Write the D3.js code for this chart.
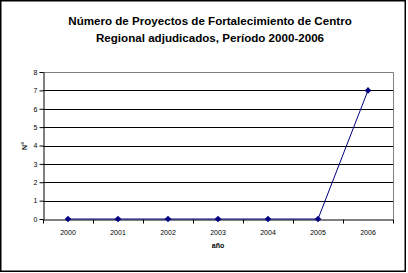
<!DOCTYPE html>
<html>
<head>
<meta charset="utf-8">
<script src="https://cdn.jsdelivr.net/npm/d3@7"></script>
<style>
  body { margin: 0; background: #fff; }
  svg text { font-family: Arial, "Liberation Sans", sans-serif; }
</style>
</head>
<body>
<svg id="chart" width="408" height="273"></svg>
<script>
// data
var years = ["2000", "2001", "2002", "2003", "2004", "2005", "2006"];
var proyectos = [0, 0, 0, 0, 0, 0, 7];
var yTicks = [0, 1, 2, 3, 4, 5, 6, 7, 8];
var titleLines = ["Número de Proyectos de Fortalecimiento de Centro", "Regional adjudicados, Período 2000-2006"];

var margin = {top: 72, left: 43},
    width = 350,
    height = 147;

var svg = d3.select("#chart");

// outer frame
svg.append("rect")
    .attr("x", 0.75).attr("y", 0.75)
    .attr("width", 404.5).attr("height", 270.5)
    .attr("fill", "#fff")
    .attr("stroke", "#000")
    .attr("stroke-width", 1.5);

// title
svg.append("g").selectAll("text")
    .data(titleLines)
    .enter().append("text")
    .attr("x", 210)
    .attr("y", function (d, i) { return 25 + i * 17; })
    .attr("text-anchor", "middle")
    .style("font-size", "11.6px")
    .style("font-weight", "bold")
    .text(function (d) { return d; });

var g = svg.append("g")
    .attr("transform", "translate(" + margin.left + "," + margin.top + ")");

// scales
var xScale = d3.scaleBand().domain(years).range([0, width]);
var yScale = d3.scaleLinear().domain([0, 8]).range([height, 0]);

// gridlines
g.append("g").selectAll("line")
    .data(yTicks.filter(function (d) { return d > 0 && d < 8; }))
    .enter().append("line")
    .attr("x1", 0).attr("x2", width)
    .attr("y1", function (d) { return Math.round(yScale(d)) + 0.5; })
    .attr("y2", function (d) { return Math.round(yScale(d)) + 0.5; })
    .attr("stroke", "#000");

// plot border top/right (gray)
g.append("path")
    .attr("d", "M0,0.5H" + (width + 0.5) + "V" + height)
    .attr("fill", "none")
    .attr("stroke", "#808080");

// y axis
var yAxis = d3.axisLeft(yScale).tickValues(yTicks).tickSize(4).tickSizeOuter(0);
var gy = g.append("g").attr("class", "y axis").attr("transform", "translate(0.5,0)").call(yAxis);
gy.select(".domain").attr("stroke", "#000");
gy.selectAll(".tick line").attr("stroke", "#000");
gy.selectAll("text").style("font-size", "7px").attr("x", -6).attr("fill", "#000");

// x axis
var xAxis = d3.axisBottom(xScale).tickSize(0).tickSizeOuter(0);
var gx = g.append("g").attr("class", "x axis").attr("transform", "translate(0," + (height + 0.5) + ")").call(xAxis);
gx.select(".domain").attr("stroke", "#000");
gx.selectAll("text").style("font-size", "7px").attr("dy", "0").attr("y", 15).attr("fill", "#000");
// tick marks between categories
gx.append("g").selectAll("line")
    .data(years)
    .enter().append("line")
    .attr("x1", function (d) { return Math.round(xScale(d)) + 0.5; })
    .attr("x2", function (d) { return Math.round(xScale(d)) + 0.5; })
    .attr("y1", 0).attr("y2", 4)
    .attr("stroke", "#000");
gx.append("line")
    .attr("x1", width + 0.5).attr("x2", width + 0.5)
    .attr("y1", 0).attr("y2", 4)
    .attr("stroke", "#000");

// axis titles
svg.append("text")
    .attr("transform", "translate(27,146) rotate(-90)")
    .attr("text-anchor", "middle")
    .style("font-size", "7px")
    .style("font-weight", "bold")
    .text("N°");

svg.append("text")
    .attr("x", margin.left + width / 2)
    .attr("y", 248)
    .attr("text-anchor", "middle")
    .style("font-size", "7px")
    .style("font-weight", "bold")
    .text("año");

// line
var line = d3.line()
    .x(function (d, i) { return xScale(years[i]) + xScale.bandwidth() / 2; })
    .y(function (d) { return yScale(d); });

g.append("path")
    .datum(proyectos)
    .attr("d", line)
    .attr("fill", "none")
    .attr("stroke", "#000080")
    .attr("stroke-width", 1);

// diamond markers (rotated squares)
g.append("g").selectAll("path")
    .data(proyectos)
    .enter().append("path")
    .attr("transform", function (d, i) {
        return "translate(" + (xScale(years[i]) + xScale.bandwidth() / 2) + "," + yScale(d) + ") rotate(45)";
    })
    .attr("d", d3.symbol().type(d3.symbolSquare).size(22))
    .attr("fill", "#000080");
</script>
</body>
</html>
